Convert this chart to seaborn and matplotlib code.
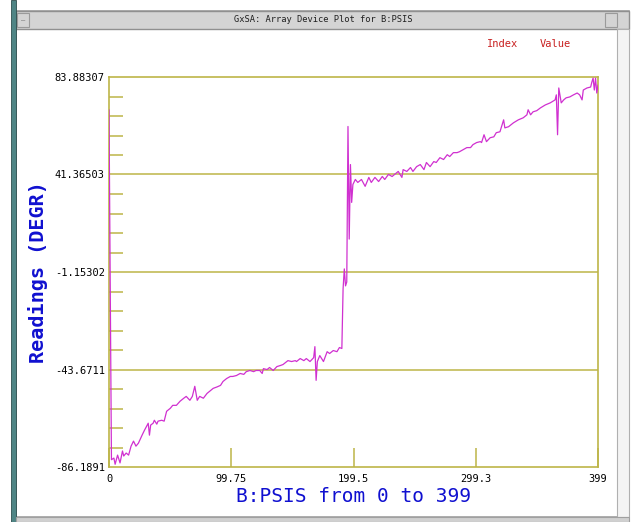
import numpy as np
import pandas as pd
import seaborn as sns
import matplotlib.pyplot as plt
from matplotlib.patches import Rectangle
from matplotlib.ticker import AutoMinorLocator

# readings of B:PSIS (index, value in DEGR)
index = [0, 1, 2, 4, 5, 7, 9, 11, 12, 14, 16, 18, 20, 22, 24, 27, 29, 32, 33, 34,
         36, 37, 39, 40, 43, 45, 47, 50, 52, 55, 58, 61, 63, 66, 68, 70, 72, 74, 77,
         80, 82, 85, 88, 91, 93, 96, 99, 101, 104, 107, 110, 112, 115, 118, 120, 123,
         125, 126, 129, 131, 134, 137, 140, 142, 145, 146, 149, 152, 153, 156, 159,
         161, 164, 167, 168, 169, 170, 172, 175, 178, 180, 183, 186, 188, 190, 191,
         192, 193, 194, 195, 196, 197, 198, 199, 201, 203, 206, 209, 212, 214, 217,
         220, 223, 225, 228, 231, 233, 236, 239, 240, 243, 246, 248, 251, 254, 257,
         259, 262, 265, 267, 270, 273, 276, 278, 281, 284, 286, 289, 292, 295, 297,
         300, 303, 304, 306, 308, 311, 314, 316, 319, 320, 322, 323, 326, 330, 334,
         338, 341, 342, 344, 346, 349, 352, 356, 360, 364, 365, 366, 367, 369, 371,
         373, 376, 379, 382, 384, 386, 387, 390, 393, 394, 395, 396, 397, 398, 399]
value = [69.6, -9.0, -83.0, -82.3, -85.0, -81.0, -84.4, -79.2, -81.4, -80.1, -81.0,
         -77.1, -74.9, -77.1, -75.8, -72.3, -70.1, -67.1, -72.3, -67.9, -67.1, -65.8,
         -67.5, -66.2, -65.8, -66.2, -61.9, -60.6, -59.3, -59.3, -57.5, -56.2, -55.4,
         -57.1, -55.4, -51.0, -57.1, -55.4, -56.2, -54.1, -53.2, -51.9, -51.3, -50.6,
         -48.9, -47.6, -46.7, -46.7, -46.3, -45.4, -45.8, -44.6, -44.1, -44.6, -44.1,
         -44.1, -45.4, -43.3, -43.7, -42.8, -44.1, -42.4, -41.9, -41.5, -40.2, -39.8,
         -40.2, -39.8, -40.2, -38.9, -39.8, -38.9, -40.2, -38.5, -33.7, -48.4, -40.2,
         -37.6, -40.2, -35.9, -36.7, -35.4, -35.9, -34.1, -34.5, -8.5, 0.2, -7.2, -5.5,
         62.3, 13.2, 45.7, 29.2, 37.0, 39.2, 37.9, 39.2, 36.2, 40.1, 37.9, 40.1, 38.3,
         40.5, 39.2, 41.4, 40.5, 41.4, 42.7, 40.1, 43.5, 42.7, 44.4, 42.7, 44.8, 45.7,
         43.5, 46.6, 44.8, 47.0, 46.6, 48.7, 47.9, 50.0, 49.2, 50.9, 50.9, 51.3, 52.2,
         53.1, 53.1, 54.4, 55.3, 55.7, 55.3, 58.7, 55.7, 57.4, 57.8, 59.6, 60.0, 61.7,
         65.2, 61.7, 62.2, 63.9, 65.2, 66.1, 67.4, 69.6, 67.4, 68.7, 69.2, 70.4, 71.7,
         72.6, 73.9, 76.1, 58.7, 79.1, 72.6, 73.9, 74.8, 75.2, 76.1, 76.9, 76.1, 73.9,
         78.2, 79.1, 79.5, 81.7, 83.4, 78.2, 83.4, 76.9, 80.4]

y_ticks = [83.88307, 41.36503, -1.15302, -43.6711, -86.1891]
y_labels = ["83.88307", "41.36503", "-1.15302", "-43.6711", "-86.1891"]
x_ticks = [0, 99.75, 199.5, 299.3, 399]
x_labels = ["0", "99.75", "199.5", "299.3", "399"]

olive = "#bdb548"
magenta = "#d030d0"
blue = "#1010d0"
mono = ["DejaVu Sans Mono"]

sns.set_style("white")
plt.rcParams["font.family"] = mono

W, H = 635, 522
fig = plt.figure(figsize=(W / 100, H / 100), dpi=100)

# window chrome, drawn under the plot
def px_rect(x0, y0, x1, y1, **kw):
    fig.patches.append(Rectangle((x0 / W, 1 - y1 / H), (x1 - x0) / W, (y1 - y0) / H,
                                 transform=fig.transFigure, figure=fig, zorder=-5, **kw))

px_rect(16, 11, 629, 517, facecolor="white", edgecolor="#a0a0a0", linewidth=1.2)
px_rect(16, 11, 629, 29, facecolor="#d4d4d4", edgecolor="#909090", linewidth=1)
px_rect(17, 13, 29, 27, facecolor="#d4d4d4", edgecolor="#9a9a9a", linewidth=0.8)
px_rect(605, 13, 617, 27, facecolor="#d4d4d4", edgecolor="#9a9a9a", linewidth=0.8)
px_rect(11, 0, 16, 522, facecolor="#4f8585", edgecolor="#2f4f4f", linewidth=0.6)
px_rect(617, 29, 629, 517, facecolor="#f4f4f4", edgecolor="#b0b0b0", linewidth=0.8)
px_rect(16, 517, 629, 522, facecolor="#d0d0d0", edgecolor="#a0a0a0", linewidth=0.8)
fig.text(23 / W, 1 - 20 / H, "\u2014", fontsize=5, color="#707070", ha="center", va="center")
fig.text(323 / W, 1 - 20 / H, "GxSA: Array Device Plot for B:PSIS", fontsize=6.3,
         ha="center", va="center", color="#202020")
fig.text(487 / W, 1 - 44 / H, "Index", fontsize=7.5, color="#c82020", va="center")
fig.text(540 / W, 1 - 44 / H, "Value", fontsize=7.5, color="#c82020", va="center")

ax = fig.add_axes([109 / W, 1 - 467 / H, 489 / W, 390 / H])
ax.set_zorder(5)
df = pd.DataFrame({"index": index, "value": value})
sns.lineplot(data=df, x="index", y="value", ax=ax, color=magenta, linewidth=0.9,
             estimator=None, sort=False, zorder=3)

ax.set_xlim(0, 399)
ax.set_ylim(-86.1891, 83.88307)
ax.set_facecolor("none")
for s in ax.spines.values():
    s.set_color(olive)
    s.set_linewidth(1.2)

ax.set_yticks(y_ticks)
ax.set_yticklabels(y_labels)
ax.set_xticks(x_ticks)
ax.set_xticklabels(x_labels)
ax.yaxis.set_minor_locator(AutoMinorLocator(5))
ax.tick_params(axis="y", which="both", left=True)
ax.tick_params(axis="x", which="both", bottom=True)
ax.tick_params(axis="y", which="major", length=0, pad=3, labelsize=7.5, labelcolor="black")
ax.tick_params(axis="y", which="minor", direction="in", length=10, width=1.1, color=olive)
ax.tick_params(axis="x", which="major", direction="in", length=14, width=1.1, color=olive,
               pad=5, labelsize=7.5, labelcolor="black")
for v in y_ticks[1:-1]:
    ax.axhline(v, color=olive, linewidth=1.1, zorder=1)

ax.set_xlabel("B:PSIS from 0 to 399", fontsize=14, color=blue, labelpad=2)
ax.set_ylabel("Readings (DEGR)", fontsize=14.5, color=blue, labelpad=5,
              fontweight="bold")

fig.savefig("out.png", dpi=100)
